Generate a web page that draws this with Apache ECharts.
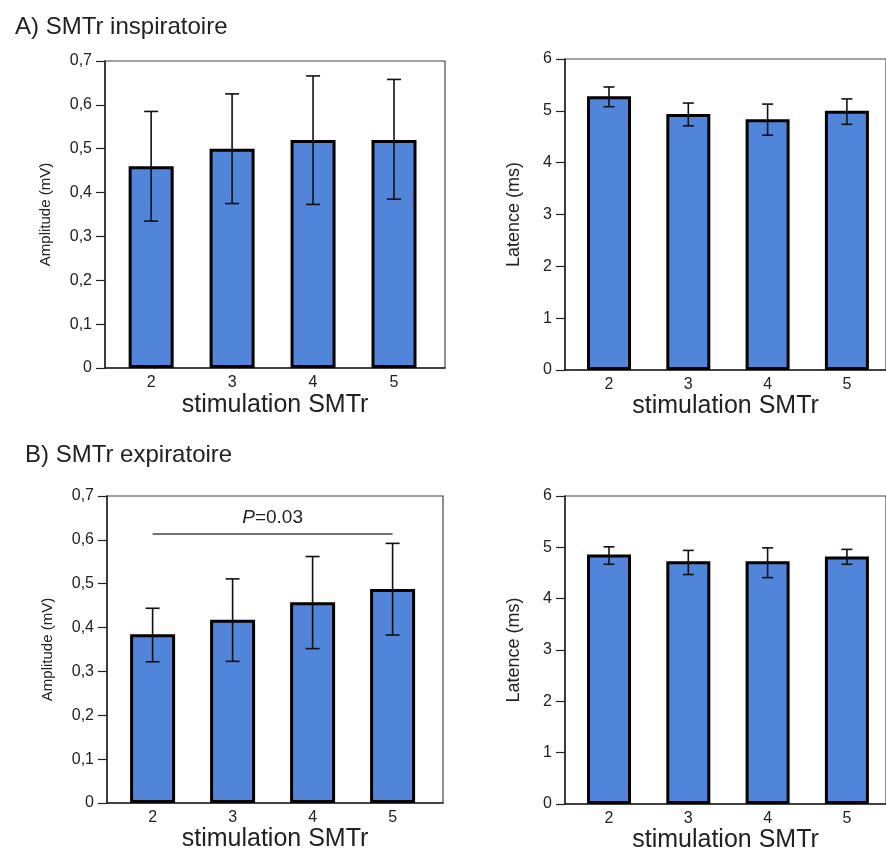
<!DOCTYPE html>
<html>
<head>
<meta charset="utf-8">
<script src="https://cdn.jsdelivr.net/npm/echarts@6/dist/echarts.min.js"></script>
<style>
  html, body { margin: 0; padding: 0; background: #fff; }
  #chart { width: 886px; height: 855px; }
</style>
</head>
<body>
<div id="chart"></div>
<script>
// stimulation levels (x categories)
const stimLevels = [2, 3, 4, 5];

// A) inspiratory - amplitude (mV)
const ampInspMean = [0.46, 0.50, 0.52, 0.52];
const ampInspLow = [0.335, 0.375, 0.373, 0.385];
const ampInspHigh = [0.585, 0.625, 0.666, 0.658];
// A) inspiratory - latency (ms)
const latInspMean = [5.28, 4.94, 4.84, 5.0];
const latInspLow = [5.08, 4.71, 4.53, 4.74];
const latInspHigh = [5.46, 5.15, 5.13, 5.23];

// B) expiratory - amplitude (mV)
const ampExpMean = [0.385, 0.418, 0.458, 0.488];
const ampExpLow = [0.322, 0.323, 0.352, 0.383];
const ampExpHigh = [0.444, 0.511, 0.562, 0.592];
// B) expiratory - latency (ms)
const latExpMean = [4.86, 4.73, 4.73, 4.82];
const latExpLow = [4.67, 4.47, 4.41, 4.67];
const latExpHigh = [5.01, 4.94, 4.99, 4.96];

// significance bracket on B amplitude
const sigFrom = 2, sigTo = 5, sigLevel = 0.614;

const FONT = 'Liberation Sans';
const BAR_COLOR = '#5185d9';

const chart = echarts.init(document.getElementById('chart'), null, { renderer: 'canvas' });

const pairs = (xs, ys) => xs.map((x, i) => [x, ys[i]]);
const triples = (xs, lo, hi) => xs.map((x, i) => [x, lo[i], hi[i]]);

const errorBar = (capW) => (params, api) => {
  const x = api.value(0);
  const top = api.coord([x, api.value(2)]);
  const bot = api.coord([x, api.value(1)]);
  const st = { stroke: '#111', lineWidth: 1.6 };
  return {
    type: 'group',
    children: [
      { type: 'line', shape: { x1: top[0], y1: top[1], x2: bot[0], y2: bot[1] }, style: st },
      { type: 'line', shape: { x1: top[0] - capW / 2, y1: top[1], x2: top[0] + capW / 2, y2: top[1] }, style: st },
      { type: 'line', shape: { x1: bot[0] - capW / 2, y1: bot[1], x2: bot[0] + capW / 2, y2: bot[1] }, style: st }
    ]
  };
};

// right-hand panels run off the picture, so they stop at the edge (right: 0)
const grids = [
  { left: 105, top: 61, width: 340, height: 307 },
  { left: 565, top: 59, right: 0, height: 311 },
  { left: 107, top: 496, width: 336, height: 307 },
  { left: 565, top: 496, right: 0, height: 308 }
].map((g) => Object.assign({ show: true, borderColor: '#444', borderWidth: 1.2, backgroundColor: 'transparent' }, g));

const xAxisBase = (i, gap) => ({
  type: 'value',
  gridIndex: i,
  min: i % 2 === 0 ? 1.43 : 1.445,
  max: i % 2 === 0 ? 5.63 : 5.493,
  name: 'stimulation SMTr',
  nameLocation: 'middle',
  nameGap: gap,
  nameTextStyle: { fontFamily: FONT, fontSize: 25, color: '#222', verticalAlign: 'top' },
  axisLine: { show: true, lineStyle: { color: '#222', width: 1.5 } },
  axisTick: { show: false },
  splitLine: { show: false },
  axisLabel: { customValues: stimLevels, fontFamily: FONT, fontSize: 16, color: '#222', margin: 7 }
});

const yAxisBase = (i, isAmp) => ({
  type: 'value',
  gridIndex: i,
  min: 0,
  max: isAmp ? 0.7 : 6,
  interval: isAmp ? 0.1 : 1,
  name: isAmp ? 'Amplitude (mV)' : 'Latence (ms)',
  nameLocation: 'middle',
  nameGap: isAmp ? 52 : 42,
  nameTextStyle: { fontFamily: FONT, fontSize: isAmp ? 15 : 18, color: '#222' },
  axisLine: { show: true, lineStyle: { color: '#222', width: 1.5 } },
  axisTick: { show: true, length: 9, lineStyle: { color: '#222', width: 1.2 } },
  splitLine: { show: false },
  axisLabel: {
    fontFamily: FONT, fontSize: 16, color: '#222', margin: 13,
    formatter: (v) => isAmp ? (v === 0 ? '0' : v.toFixed(1).replace('.', ',')) : String(Math.round(v))
  }
});

const barSeries = (i, ys, bw) => ({
  type: 'bar',
  xAxisIndex: i,
  yAxisIndex: i,
  data: pairs(stimLevels, ys),
  barWidth: bw,
  itemStyle: { color: BAR_COLOR, borderColor: '#000', borderWidth: 3 },
  silent: true
});

const errSeries = (i, lo, hi, capW) => ({
  type: 'custom',
  xAxisIndex: i,
  yAxisIndex: i,
  data: triples(stimLevels, lo, hi),
  renderItem: errorBar(capW),
  z: 5,
  silent: true
});

const ampExpBar = barSeries(2, ampExpMean, 45);
ampExpBar.markLine = {
  silent: true,
  symbol: 'none',
  lineStyle: { color: '#444', width: 1.5, type: 'solid' },
  label: {
    show: true,
    position: 'middle',
    distance: 6,
    formatter: '{p|P}{t|=0.03}',
    rich: {
      p: { fontFamily: FONT, fontSize: 19, fontStyle: 'italic', color: '#222' },
      t: { fontFamily: FONT, fontSize: 19, color: '#222' }
    }
  },
  data: [[{ coord: [sigFrom, sigLevel] }, { coord: [sigTo, sigLevel] }]]
};

const option = {
  animation: false,
  backgroundColor: '#fff',
  title: [
    { text: 'A) SMTr inspiratoire', left: 10, top: 10, textStyle: { fontFamily: FONT, fontSize: 24, fontWeight: 'normal', color: '#222' } },
    { text: 'B) SMTr expiratoire', left: 20, top: 438, textStyle: { fontFamily: FONT, fontSize: 24, fontWeight: 'normal', color: '#222' } }
  ],
  grid: grids,
  xAxis: [xAxisBase(0, 25), xAxisBase(1, 22), xAxisBase(2, 23), xAxisBase(3, 22)],
  yAxis: [yAxisBase(0, true), yAxisBase(1, false), yAxisBase(2, true), yAxisBase(3, false)],
  series: [
    barSeries(0, ampInspMean, 45),
    errSeries(0, ampInspLow, ampInspHigh, 14),
    barSeries(1, latInspMean, 44),
    errSeries(1, latInspLow, latInspHigh, 11),
    ampExpBar,
    errSeries(2, ampExpLow, ampExpHigh, 14),
    barSeries(3, latExpMean, 44),
    errSeries(3, latExpLow, latExpHigh, 11)
  ]
};

chart.setOption(option);
</script>
</body>
</html>
